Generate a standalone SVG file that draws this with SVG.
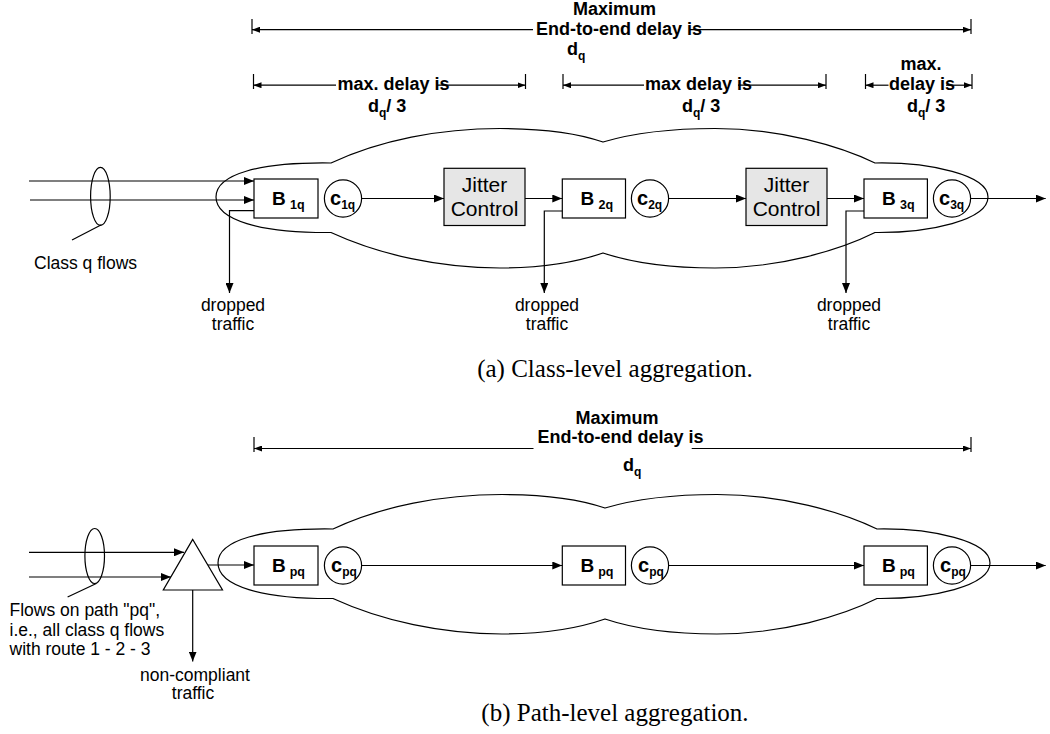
<svg xmlns="http://www.w3.org/2000/svg" xmlns:xlink="http://www.w3.org/1999/xlink" width="1050" height="734" viewBox="0 0 1050 734">
<style>
  .ln{stroke:#000;stroke-width:1.2;fill:none}
  .box{stroke:#000;stroke-width:1.2;fill:#fff}
  .jit{stroke:#000;stroke-width:1.2;fill:#e6e6e6}
  .t{font-family:"Liberation Sans",Arial,sans-serif;font-size:17.5px;fill:#000}
  .tj{font-family:"Liberation Sans",Arial,sans-serif;font-size:21px;fill:#000;text-anchor:middle}
  .b{font-family:"Liberation Sans",Arial,sans-serif;font-weight:bold;font-size:18px;fill:#000}
  .bB{font-family:"Liberation Sans",Arial,sans-serif;font-weight:bold;font-size:19px;fill:#000}
  .bc{font-family:"Liberation Sans",Arial,sans-serif;font-weight:bold;font-size:20px;fill:#000}
  .cap{font-family:"Liberation Serif","Times New Roman",serif;font-size:25px;fill:#000;text-anchor:middle}
  .mid{text-anchor:middle}
  .dim{stroke:#000;stroke-width:1.2;fill:none;marker-end:url(#da)}
  .arr{stroke:#000;stroke-width:1.2;fill:none;marker-end:url(#ah)}
</style>
<defs>
  <marker id="ah" viewBox="0 0 10 8" refX="10" refY="4" markerWidth="10" markerHeight="8" markerUnits="userSpaceOnUse" orient="auto"><path d="M0,0 L10,4 L0,8 z" fill="#000"/></marker>
  <marker id="da" viewBox="0 0 8 6" refX="8" refY="3" markerWidth="8" markerHeight="6" markerUnits="userSpaceOnUse" orient="auto"><path d="M0,0 L8,3 L0,6 z" fill="#000"/></marker>
  <path id="cloudShape" d="M331,163 C380,140 440,128.5 500,128.5 C545,128.5 580,134 603,142 C630,134 670,128.5 715,128.5 C780,128.5 840,146 875,163 C930,162 988,175 988,197 C988,220 930,233 875,232.5 C840,250 780,268 715,268 C670,268 630,262 603,253 C580,261 545,268 500,268 C440,268 380,255 331,232.5 C260,233 216,220 216,197 C216,174 260,162 331,163 Z"/>
</defs>
<rect width="1050" height="734" fill="#fff"/>

<!-- ============ (a) Class-level aggregation ============ -->
<g id="cloud-a"><use xlink:href="#cloudShape" href="#cloudShape" class="ln"/></g>

<g id="dimensions-a">
  <line x1="252" y1="19" x2="252" y2="34" class="ln"/>
  <line x1="971" y1="19" x2="971" y2="34" class="ln"/>
  <line x1="533" y1="29.7" x2="252" y2="29.7" class="dim"/>
  <line x1="689" y1="29.7" x2="971" y2="29.7" class="dim"/>
  <text x="614.5" y="15" class="b mid">Maximum</text>
  <text x="619" y="35" class="b mid">End-to-end delay is</text>
  <text x="567" y="54.5" class="b">d<tspan dy="5" font-size="12">q</tspan></text>

  <line x1="253.5" y1="74" x2="253.5" y2="89" class="ln"/>
  <line x1="525.5" y1="74" x2="525.5" y2="89" class="ln"/>
  <line x1="336" y1="85.2" x2="253.5" y2="85.2" class="dim"/>
  <line x1="437" y1="85.2" x2="525.5" y2="85.2" class="dim"/>
  <text x="393.5" y="90" class="b mid">max. delay is</text>
  <text x="368" y="112" class="b">d<tspan dy="5" font-size="12">q</tspan><tspan dy="-5">/ 3</tspan></text>

  <line x1="563" y1="74" x2="563" y2="89" class="ln"/>
  <line x1="826" y1="74" x2="826" y2="89" class="ln"/>
  <line x1="644" y1="85.2" x2="563" y2="85.2" class="dim"/>
  <line x1="738" y1="85.2" x2="826" y2="85.2" class="dim"/>
  <text x="698.5" y="90" class="b mid">max delay is</text>
  <text x="682" y="112" class="b">d<tspan dy="5" font-size="12">q</tspan><tspan dy="-5">/ 3</tspan></text>

  <line x1="865.5" y1="74" x2="865.5" y2="89" class="ln"/>
  <line x1="972" y1="74" x2="972" y2="89" class="ln"/>
  <line x1="888.5" y1="85.2" x2="865.5" y2="85.2" class="dim"/>
  <line x1="946" y1="85.2" x2="972" y2="85.2" class="dim"/>
  <text x="921" y="70" class="b mid">max.</text>
  <text x="922" y="90" class="b mid">delay is</text>
  <text x="907" y="112" class="b">d<tspan dy="5" font-size="12">q</tspan><tspan dy="-5">/ 3</tspan></text>
</g>

<g id="bundle-a">
  <ellipse cx="100.4" cy="196.4" rx="9.8" ry="29" class="ln"/>
  <line x1="101.4" y1="224.8" x2="72" y2="240" class="ln"/>
  <text x="34" y="269" class="t">Class q flows</text>
</g>

<g id="B1q"><rect x="254" y="179" width="64" height="39" class="box"/><text x="272" y="205" class="bB">B<tspan dx="4.3" dy="4" font-size="12.5">1q</tspan></text></g>
<g id="c1q"><circle cx="343" cy="198.5" r="18.6" class="box"/><text x="330" y="204.5" class="bc">c<tspan dy="4.5" font-size="12">1q</tspan></text></g>
<g id="jitter1"><rect x="444" y="168.3" width="81" height="57.2" class="jit"/><text x="484.5" y="192" class="tj">Jitter</text><text x="484.5" y="216" class="tj">Control</text></g>
<g id="B2q"><rect x="562.3" y="179" width="63.2" height="39" class="box"/><text x="580.5" y="205" class="bB">B<tspan dx="4.3" dy="4" font-size="12.5">2q</tspan></text></g>
<g id="c2q"><circle cx="650" cy="198.5" r="18.6" class="box"/><text x="637" y="204.5" class="bc">c<tspan dy="4.5" font-size="12">2q</tspan></text></g>
<g id="jitter2"><rect x="746" y="168.3" width="81" height="57.2" class="jit"/><text x="786.5" y="192" class="tj">Jitter</text><text x="786.5" y="216" class="tj">Control</text></g>
<g id="B3q"><rect x="864" y="179" width="63.4" height="39" class="box"/><text x="882" y="205" class="bB">B<tspan dx="4.3" dy="4" font-size="12.5">3q</tspan></text></g>
<g id="c3q"><circle cx="952" cy="198.5" r="18.6" class="box"/><text x="939" y="204.5" class="bc">c<tspan dy="4.5" font-size="12">3q</tspan></text></g>

<g id="drop-labels-a">
  <text x="233" y="311" class="t mid">dropped</text>
  <text x="233" y="330" class="t mid">traffic</text>
  <text x="547" y="311" class="t mid">dropped</text>
  <text x="547" y="330" class="t mid">traffic</text>
  <text x="849" y="311" class="t mid">dropped</text>
  <text x="849" y="330" class="t mid">traffic</text>
</g>

<g id="connectors-a">
  <line x1="29" y1="181" x2="254" y2="181" class="arr"/>
  <line x1="30" y1="200" x2="254" y2="200" class="arr"/>
  <polyline points="254,210.6 229.5,210.6 229.5,293" class="arr"/>
  <line x1="361.6" y1="198.5" x2="444" y2="198.5" class="arr"/>
  <line x1="525" y1="198.5" x2="562.3" y2="198.5" class="arr"/>
  <polyline points="562.3,211 544.3,211 544.3,293" class="arr"/>
  <line x1="668.6" y1="198.5" x2="746" y2="198.5" class="arr"/>
  <line x1="827" y1="198.5" x2="864" y2="198.5" class="arr"/>
  <polyline points="864,211 846,211 846,293" class="arr"/>
  <line x1="970.6" y1="198.5" x2="1045.7" y2="198.5" class="arr"/>
</g>

<text x="615" y="377" class="cap">(a) Class-level aggregation.</text>

<!-- ============ (b) Path-level aggregation ============ -->
<g id="cloud-b"><use xlink:href="#cloudShape" href="#cloudShape" class="ln" transform="translate(2,366)"/></g>

<g id="dimensions-b">
  <line x1="254" y1="437" x2="254" y2="452" class="ln"/>
  <line x1="971" y1="437" x2="971" y2="452" class="ln"/>
  <line x1="533.5" y1="448.5" x2="254" y2="448.5" class="dim"/>
  <line x1="691.7" y1="448.5" x2="971" y2="448.5" class="dim"/>
  <text x="617" y="424" class="b mid">Maximum</text>
  <text x="620.5" y="443.4" class="b mid">End-to-end delay is</text>
  <text x="623" y="471" class="b">d<tspan dy="5" font-size="12">q</tspan></text>
</g>

<g id="bundle-b">
  <ellipse cx="94.7" cy="556" rx="9.8" ry="27.5" class="ln"/>
  <line x1="96.3" y1="583.5" x2="67.6" y2="597" class="ln"/>
  <text x="9.5" y="615.8" class="t">Flows on path "pq",</text>
  <text x="9.5" y="635.5" class="t">i.e., all class q flows</text>
  <text x="9.5" y="655.3" class="t">with route 1 - 2 - 3</text>
</g>

<g id="policer"><polygon points="192.7,539.4 163.3,590 222.5,590" class="box"/></g>
<g id="noncompliant-label">
  <text x="195" y="680.5" class="t mid">non-compliant</text>
  <text x="193" y="699" class="t mid">traffic</text>
</g>

<g id="Bpq1"><rect x="254" y="546" width="64" height="39" class="box"/><text x="272" y="572" class="bB">B<tspan dx="4" dy="4" font-size="12.5">pq</tspan></text></g>
<g id="cpq1"><circle cx="343" cy="565.5" r="18.6" class="box"/><text x="331" y="571.5" class="bc">c<tspan dy="4.5" font-size="12">pq</tspan></text></g>
<g id="Bpq2"><rect x="562.3" y="546" width="63.2" height="39" class="box"/><text x="580.5" y="572" class="bB">B<tspan dx="4" dy="4" font-size="12.5">pq</tspan></text></g>
<g id="cpq2"><circle cx="650" cy="565.5" r="18.6" class="box"/><text x="638" y="571.5" class="bc">c<tspan dy="4.5" font-size="12">pq</tspan></text></g>
<g id="Bpq3"><rect x="864" y="546" width="63.4" height="39" class="box"/><text x="882" y="572" class="bB">B<tspan dx="4" dy="4" font-size="12.5">pq</tspan></text></g>
<g id="cpq3"><circle cx="952" cy="565.5" r="18.6" class="box"/><text x="940" y="571.5" class="bc">c<tspan dy="4.5" font-size="12">pq</tspan></text></g>

<g id="connectors-b">
  <line x1="29" y1="552.3" x2="184" y2="552.3" class="arr"/>
  <line x1="29" y1="577" x2="171" y2="577" class="arr"/>
  <line x1="208" y1="565" x2="254" y2="565" class="arr"/>
  <line x1="192.7" y1="590" x2="192.7" y2="661.5" class="arr"/>
  <line x1="361.6" y1="565.5" x2="562.3" y2="565.5" class="arr"/>
  <line x1="668.6" y1="565.5" x2="864" y2="565.5" class="arr"/>
  <line x1="970.6" y1="565.5" x2="1045.7" y2="565.5" class="arr"/>
</g>

<text x="615" y="721" class="cap">(b) Path-level aggregation.</text>
</svg>
